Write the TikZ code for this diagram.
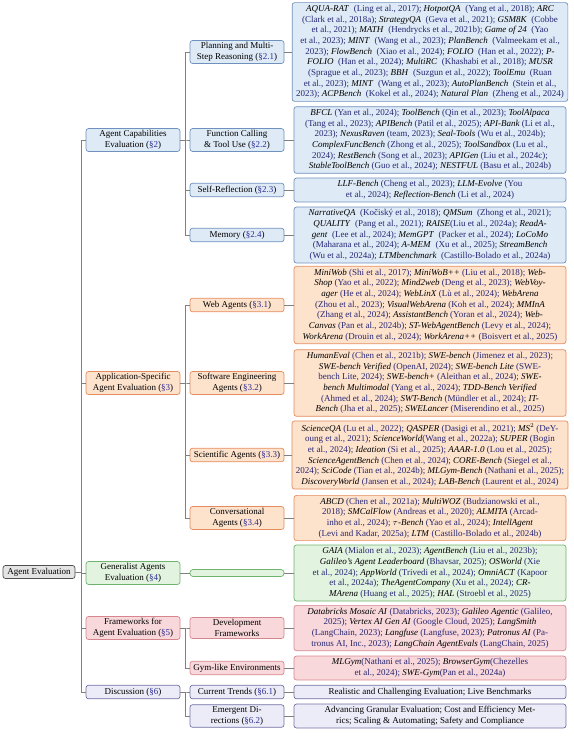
\documentclass[tikz,border=0pt]{standalone}
\usepackage{fontspec}
\setmainfont{Liberation Serif}
\definecolor{citeblue}{RGB}{38,38,115}
\definecolor{refblue}{RGB}{45,45,150}
\definecolor{bluefill}{RGB}{222,234,246}
\definecolor{blueline}{RGB}{110,145,190}
\definecolor{orafill}{RGB}{253,226,204}
\definecolor{oraline}{RGB}{228,140,95}
\definecolor{grnfill}{RGB}{226,243,223}
\definecolor{grnline}{RGB}{110,180,110}
\definecolor{pnkfill}{RGB}{248,216,219}
\definecolor{pnkline}{RGB}{214,135,142}
\definecolor{lavfill}{RGB}{236,236,248}
\definecolor{lavline}{RGB}{112,112,165}
\definecolor{gryfill}{RGB}{228,228,228}
\definecolor{gryline}{RGB}{80,80,80}
% benchmark names and section references
\newcommand{\nm}[1]{\textcolor{black}{\textit{#1}}}
\newcommand{\sx}[1]{(\textcolor{refblue}{\S#1})}
\newcommand{\wg}{\hspace{4.5pt}}
\begin{document}
\begin{tikzpicture}[x=1pt,y=-1pt,
  base/.style={rounded corners=2.5pt, line width=0.7pt, align=center,
    inner xsep=2pt, inner ysep=2pt, font=\fontsize{9}{10.7}\selectfont},
  lvbox/.style={base, minimum width=94pt, minimum height=13.5pt},
  leaf/.style={base, minimum width=272pt, inner xsep=4pt, inner ysep=2.5pt, text=citeblue},
  blu/.style={fill=bluefill, draw=blueline},
  ora/.style={fill=orafill, draw=oraline},
  grn/.style={fill=grnfill, draw=grnline},
  pnk/.style={fill=pnkfill, draw=pnkline},
  lav/.style={fill=lavfill, draw=lavline},
  link/.style={draw=black!50, line width=0.5pt}]
\useasboundingbox (0,0) rectangle (573,736);

% root
\node[base, fill=gryfill, draw=gryline, minimum width=72pt, minimum height=13pt] (r) at (39,572) {Agent Evaluation};

% first level
\node[lvbox,blu] (a) at (133,140) {Agent Capabilities\\Evaluation \sx{2}};
\node[lvbox,ora] (b) at (133,383) {Application-Specific\\Agent Evaluation \sx{3}};
\node[lvbox,grn] (c) at (133,573) {Generalist Agents\\Evaluation \sx{4}};
\node[lvbox,pnk] (d) at (133,628) {Frameworks for\\Agent Evaluation \sx{5}};
\node[lvbox,lav] (e) at (133,692) {Discussion \sx{6}};

% second level
\node[lvbox,blu] (a1) at (237,52) {Planning and Multi-\\Step Reasoning \sx{2.1}};
\node[lvbox,blu] (a2) at (237,140) {Function Calling\\\& Tool Use \sx{2.2}};
\node[lvbox,blu] (a3) at (237,190) {Self-Reflection \sx{2.3}};
\node[lvbox,blu] (a4) at (237,235) {Memory \sx{2.4}};
\node[lvbox,ora] (b1) at (237,305) {Web Agents \sx{3.1}};
\node[lvbox,ora] (b2) at (237,383) {Software Engineering\\Agents \sx{3.2}};
\node[lvbox,ora] (b3) at (237,455) {Scientific Agents \sx{3.3}};
\node[lvbox,ora] (b4) at (237,518) {Conversational\\Agents \sx{3.4}};
\node[base,grn, minimum width=94pt, minimum height=7pt, inner sep=0pt, rounded corners=3pt] (c1) at (237,573) {};
\node[lvbox,pnk] (d1) at (237,628) {Development\\Frameworks};
\node[lvbox,pnk] (d2) at (237,668) {Gym-like Environments};
\node[lvbox,lav] (e1) at (237,692) {Current Trends \sx{6.1}};
\node[lvbox,lav] (e2) at (237,716) {Emergent Di-\\rections \sx{6.2}};

% leaves
\node[leaf,blu] (a1l) at (430,52) {\nm{AQUA-RAT}\wg(Ling et al., 2017); \nm{HotpotQA}\wg(Yang et al., 2018); \nm{ARC}\\
(Clark et al., 2018a); \nm{StrategyQA}\wg(Geva et al., 2021); \nm{GSM8K}\wg(Cobbe\\
et al., 2021); \nm{MATH}\wg(Hendrycks et al., 2021b); \nm{Game of 24}\wg(Yao\\
et al., 2023); \nm{MINT}\wg(Wang et al., 2023); \nm{PlanBench}\wg(Valmeekam et al.,\\
2023); \nm{FlowBench}\wg(Xiao et al., 2024); \nm{FOLIO}\wg(Han et al., 2022); \nm{P-}\\
\nm{FOLIO}\wg(Han et al., 2024); \nm{MultiRC}\wg(Khashabi et al., 2018); \nm{MUSR}\\
(Sprague et al., 2023); \nm{BBH}\wg(Suzgun et al., 2022); \nm{ToolEmu}\wg(Ruan\\
et al., 2023); \nm{MINT}\wg(Wang et al., 2023); \nm{AutoPlanBench}\wg(Stein et al.,\\
2023); \nm{ACPBench}\wg(Kokel et al., 2024); \nm{Natural Plan}\wg(Zheng et al., 2024)};

\node[leaf,blu] (a2l) at (430,140) {\nm{BFCL} (Yan et al., 2024); \nm{ToolBench} (Qin et al., 2023); \nm{ToolAlpaca}\\
(Tang et al., 2023); \nm{APIBench} (Patil et al., 2025); \nm{API-Bank} (Li et al.,\\
2023); \nm{NexusRaven} (team, 2023); \nm{Seal-Tools} (Wu et al., 2024b);\\
\nm{ComplexFuncBench} (Zhong et al., 2025); \nm{ToolSandbox} (Lu et al.,\\
2024); \nm{RestBench} (Song et al., 2023); \nm{APIGen} (Liu et al., 2024c);\\
\nm{StableToolBench} (Guo et al., 2024); \nm{NESTFUL} (Basu et al., 2024b)};

\node[leaf,blu] (a3l) at (430,190) {\nm{LLF-Bench} (Cheng et al., 2023); \nm{LLM-Evolve} (You\\
et al., 2024); \nm{Reflection-Bench} (Li et al., 2024)};

\node[leaf,blu] (a4l) at (430,235) {\nm{NarrativeQA}\wg(Kočiský et al., 2018); \nm{QMSum}\wg(Zhong et al., 2021);\\
\nm{QUALITY}\wg(Pang et al., 2021); \nm{RAISE}(Liu et al., 2024a); \nm{ReadA-}\\
\nm{gent}\wg(Lee et al., 2024); \nm{MemGPT}\wg(Packer et al., 2024); \nm{LoCoMo}\\
(Maharana et al., 2024); \nm{A-MEM}\wg(Xu et al., 2025); \nm{StreamBench}\\
(Wu et al., 2024a); \nm{LTMbenchmark}\wg(Castillo-Bolado et al., 2024a)};

\node[leaf,ora] (b1l) at (430,305) {\nm{MiniWob} (Shi et al., 2017); \nm{MiniWoB++} (Liu et al., 2018); \nm{Web-}\\
\nm{Shop} (Yao et al., 2022); \nm{Mind2web} (Deng et al., 2023); \nm{WebVoy-}\\
\nm{ager} (He et al., 2024); \nm{WebLinX} (Lù et al., 2024); \nm{WebArena}\\
(Zhou et al., 2023); \nm{VisualWebArena} (Koh et al., 2024); \nm{MMInA}\\
(Zhang et al., 2024); \nm{AssistantBench} (Yoran et al., 2024); \nm{Web-}\\
\nm{Canvas} (Pan et al., 2024b); \nm{ST-WebAgentBench} (Levy et al., 2024);\\
\nm{WorkArena} (Drouin et al., 2024); \nm{WorkArena++} (Boisvert et al., 2025)};

\node[leaf,ora] (b2l) at (430,383) {\nm{HumanEval} (Chen et al., 2021b); \nm{SWE-bench} (Jimenez et al., 2023);\\
\nm{SWE-bench Verified} (OpenAI, 2024); \nm{SWE-bench Lite} (SWE-\\
bench Lite, 2024); \nm{SWE-bench+} (Aleithan et al., 2024); \nm{SWE-}\\
\nm{bench Multimodal} (Yang et al., 2024); \nm{TDD-Bench Verified}\\
(Ahmed et al., 2024); \nm{SWT-Bench} (Mündler et al., 2024); \nm{IT-}\\
\nm{Bench} (Jha et al., 2025); \nm{SWELancer} (Miserendino et al., 2025)};

\node[leaf,ora] (b3l) at (430,455) {\nm{ScienceQA} (Lu et al., 2022); \nm{QASPER} (Dasigi et al., 2021); \nm{MS$^2$} (DeY-\\
oung et al., 2021); \nm{ScienceWorld}(Wang et al., 2022a); \nm{SUPER} (Bogin\\
et al., 2024); \nm{Ideation} (Si et al., 2025); \nm{AAAR-1.0} (Lou et al., 2025);\\
\nm{ScienceAgentBench} (Chen et al., 2024); \nm{CORE-Bench} (Siegel et al.,\\
2024); \nm{SciCode} (Tian et al., 2024b); \nm{MLGym-Bench} (Nathani et al., 2025);\\
\nm{DiscoveryWorld} (Jansen et al., 2024); \nm{LAB-Bench} (Laurent et al., 2024)};

\node[leaf,ora] (b4l) at (430,518) {\nm{ABCD} (Chen et al., 2021a); \nm{MultiWOZ} (Budzianowski et al.,\\
2018); \nm{SMCalFlow} (Andreas et al., 2020); \nm{ALMITA} (Arcad-\\
inho et al., 2024); \nm{$\tau$-Bench} (Yao et al., 2024); \nm{IntellAgent}\\
(Levi and Kadar, 2025a); \nm{LTM} (Castillo-Bolado et al., 2024b)};

\node[leaf,grn] (c1l) at (430,573) {\nm{GAIA} (Mialon et al., 2023); \nm{AgentBench} (Liu et al., 2023b);\\
\nm{Galileo's Agent Leaderboard} (Bhavsar, 2025); \nm{OSWorld} (Xie\\
et al., 2024); \nm{AppWorld} (Trivedi et al., 2024); \nm{OmniACT} (Kapoor\\
et al., 2024a); \nm{TheAgentCompany} (Xu et al., 2024); \nm{CR-}\\
\nm{MArena} (Huang et al., 2025); \nm{HAL} (Stroebl et al., 2025)};

\node[leaf,pnk] (d1l) at (430,628) {\nm{Databricks Mosaic AI} (Databricks, 2023); \nm{Galileo Agentic} (Galileo,\\
2025); \nm{Vertex AI Gen AI} (Google Cloud, 2025); \nm{LangSmith}\\
(LangChain, 2023); \nm{Langfuse} (Langfuse, 2023); \nm{Patronus AI} (Pa-\\
tronus AI, Inc., 2023); \nm{LangChain AgentEvals} (LangChain, 2025)};

\node[leaf,pnk] (d2l) at (430,668) {\nm{MLGym}(Nathani et al., 2025); \nm{BrowserGym}(Chezelles\\
et al., 2024); \nm{SWE-Gym}(Pan et al., 2024a)};

\node[leaf,lav,text=black, minimum height=13.5pt] (e1l) at (430,692) {Realistic and Challenging Evaluation; Live Benchmarks};
\node[leaf,lav,text=black] (e2l) at (430,716) {Advancing Granular Evaluation; Cost and Efficiency Met-\\
rics; Scaling \& Automating; Safety and Compliance};

% connectors: root to first level
\foreach \n in {a,b,c,d,e}
  \draw[link] (r.east) -- ++(6,0) |- (\n.west);
% first level to second level
\foreach \n in {a1,a2,a3,a4}
  \draw[link] (a.east) -- ++(4.5,0) |- (\n.west);
\foreach \n in {b1,b2,b3,b4}
  \draw[link] (b.east) -- ++(4.5,0) |- (\n.west);
\draw[link] (c.east) -- (c1.west);
\foreach \n in {d1,d2}
  \draw[link] (d.east) -- ++(4.5,0) |- (\n.west);
\foreach \n in {e1,e2}
  \draw[link] (e.east) -- ++(4.5,0) |- (\n.west);
% second level to leaves
\foreach \n in {a1,a2,a3,a4,b1,b2,b3,b4,c1,d1,d2,e1,e2}
  \draw[link] (\n.east) -- (\n l.west);
\end{tikzpicture}
\end{document}
